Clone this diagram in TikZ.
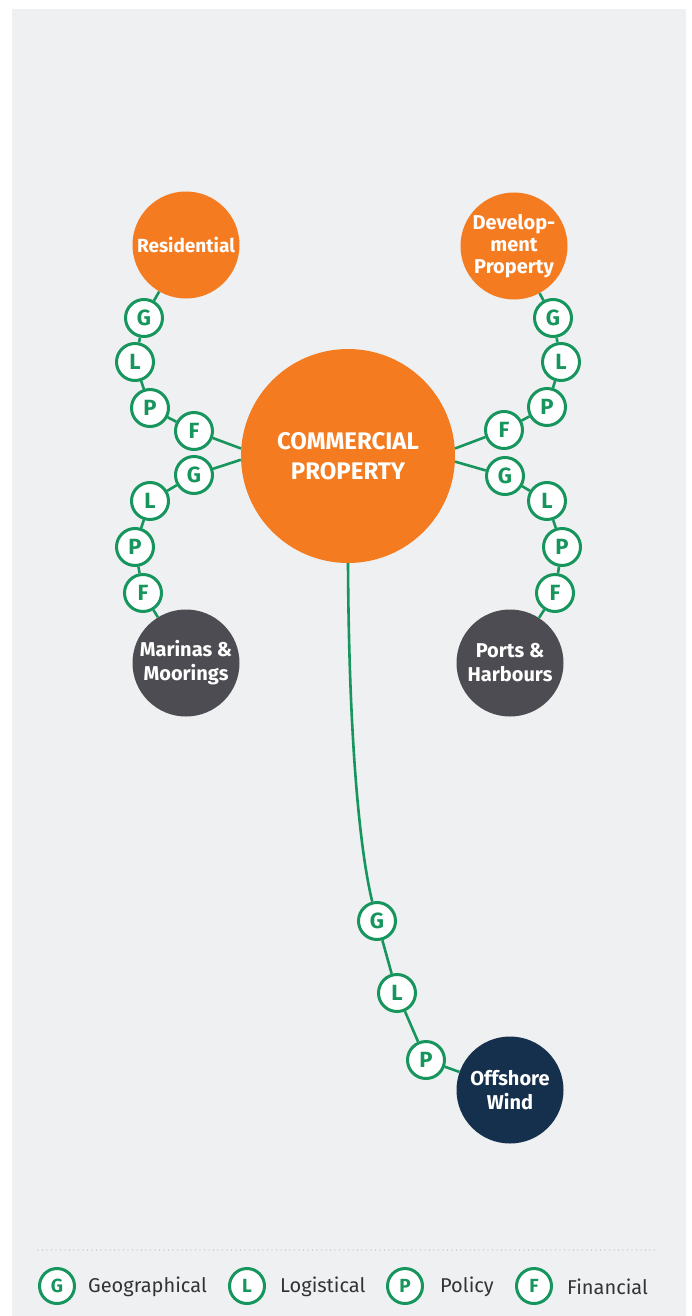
\documentclass[tikz,border=0pt]{standalone}
\usepackage{fontspec}
\setmainfont{Fira Sans}
\definecolor{bgpanel}{HTML}{EFF0F2}
\definecolor{grn}{HTML}{16955D}
\definecolor{orng}{HTML}{F47B20}
\definecolor{dgray}{HTML}{4D4C52}
\definecolor{navy}{HTML}{15304D}
\definecolor{txtgray}{HTML}{333333}
\definecolor{dotgray}{HTML}{B5B8BD}
\tikzset{
  big/.style={circle, minimum size=107pt, inner sep=0pt, text=white, align=center,
    font=\bfseries\fontsize{20}{22}\selectfont},
  chip/.style={circle, draw=grn, line width=3pt, fill=white, minimum size=37pt,
    inner sep=0pt, text=grn, font=\bfseries\fontsize{22}{22}\selectfont},
  legchip/.style={circle, draw=grn, line width=3pt, fill=white, minimum size=35pt,
    inner sep=0pt, text=grn, font=\bfseries\fontsize{19}{19}\selectfont},
  legtext/.style={anchor=west, inner sep=0pt, text=txtgray, font=\fontsize{20}{20}\selectfont},
  link/.style={draw=grn, line width=2.6pt},
}
\begin{document}
\begin{tikzpicture}[x=1pt, y=-1pt]
\useasboundingbox (0,0) rectangle (691,1316);
\fill[white] (0,0) rectangle (691,1316);
\fill[bgpanel] (12,9) rectangle (686,1316);

% main circles
\node[big, fill=orng, minimum size=214pt, font=\bfseries\fontsize{24}{30}\selectfont] (com) at (348,456) {COMMERCIAL\\PROPERTY};
\node[big, fill=orng, font=\bfseries\fontsize{19}{22}\selectfont] (res) at (186,245) {Residential};
\node[big, fill=orng] (dev) at (514,246) {Develop-\\ment\\Property};
\node[big, fill=dgray, font=\bfseries\fontsize{20}{24}\selectfont] (mar) at (186,663) {Marinas \&\\Moorings};
\node[big, fill=dgray, font=\bfseries\fontsize{20}{24}\selectfont] (por) at (510,663) {Ports \&\\Harbours};
\node[big, fill=navy, font=\bfseries\fontsize{20}{24}\selectfont] (off) at (510,1090) {Offshore\\Wind};

% chips
\node[chip] (lg1) at (144,318) {G};
\node[chip] (ll1) at (135,362) {L};
\node[chip] (lp1) at (150,408) {P};
\node[chip] (lf1) at (194,431) {F};
\node[chip] (lg2) at (194,475) {G};
\node[chip] (ll2) at (150,501) {L};
\node[chip] (lp2) at (135,547) {P};
\node[chip] (lf2) at (143,593) {F};
\node[chip] (rg1) at (553,318) {G};
\node[chip] (rl1) at (561,362) {L};
\node[chip] (rp1) at (547,407) {P};
\node[chip] (rf1) at (504,430) {F};
\node[chip] (rg2) at (505,476) {G};
\node[chip] (rl2) at (547,501) {L};
\node[chip] (rp2) at (562,547) {P};
\node[chip] (rf2) at (555,593) {F};
\node[chip] (og) at (377,921) {G};
\node[chip] (ol) at (397,993) {L};
\node[chip] (op) at (426,1060) {P};

% connectors
\draw[link] (res) -- (lg1);
\draw[link] (lg1) -- (ll1);
\draw[link] (ll1) -- (lp1);
\draw[link] (lp1) -- (lf1);
\draw[link] (lf1) -- (com.176);
\draw[link] (com.182) -- (lg2);
\draw[link] (lg2) -- (ll2);
\draw[link] (ll2) -- (lp2);
\draw[link] (lp2) -- (lf2);
\draw[link] (lf2) -- (mar);
\draw[link] (dev) -- (rg1);
\draw[link] (rg1) -- (rl1);
\draw[link] (rl1) -- (rp1);
\draw[link] (rp1) -- (rf1);
\draw[link] (rf1) -- (com.4);
\draw[link] (com.-3) -- (rg2);
\draw[link] (rg2) -- (rl2);
\draw[link] (rl2) -- (rp2);
\draw[link] (rp2) -- (rf2);
\draw[link] (rf2) -- (por);
\draw[link] (com.south) .. controls (349,760) and (362,860) .. (og);
\draw[link] (og) -- (ol);
\draw[link] (ol) -- (op);
\draw[link] (op) -- (off);

% legend
\coordinate (sepL) at (38,1250);
\coordinate (sepR) at (658,1250);
\draw[dotgray, line width=1.3pt, line cap=round, dash pattern=on 0pt off 4.5pt] (sepL) -- (sepR);
\node[legchip] (kg) at (57,1286) {G};
\node[legtext] (kgt) at (88,1287) {Geographical};
\node[legchip] (kl) at (247,1286) {L};
\node[legtext] (klt) at (280,1287) {Logistical};
\node[legchip] (kp) at (405,1286) {P};
\node[legtext] (kpt) at (440,1287) {Policy};
\node[legchip] (kf) at (534,1286) {F};
\node[legtext] (kft) at (567,1287) {Financial};
\end{tikzpicture}
\end{document}
